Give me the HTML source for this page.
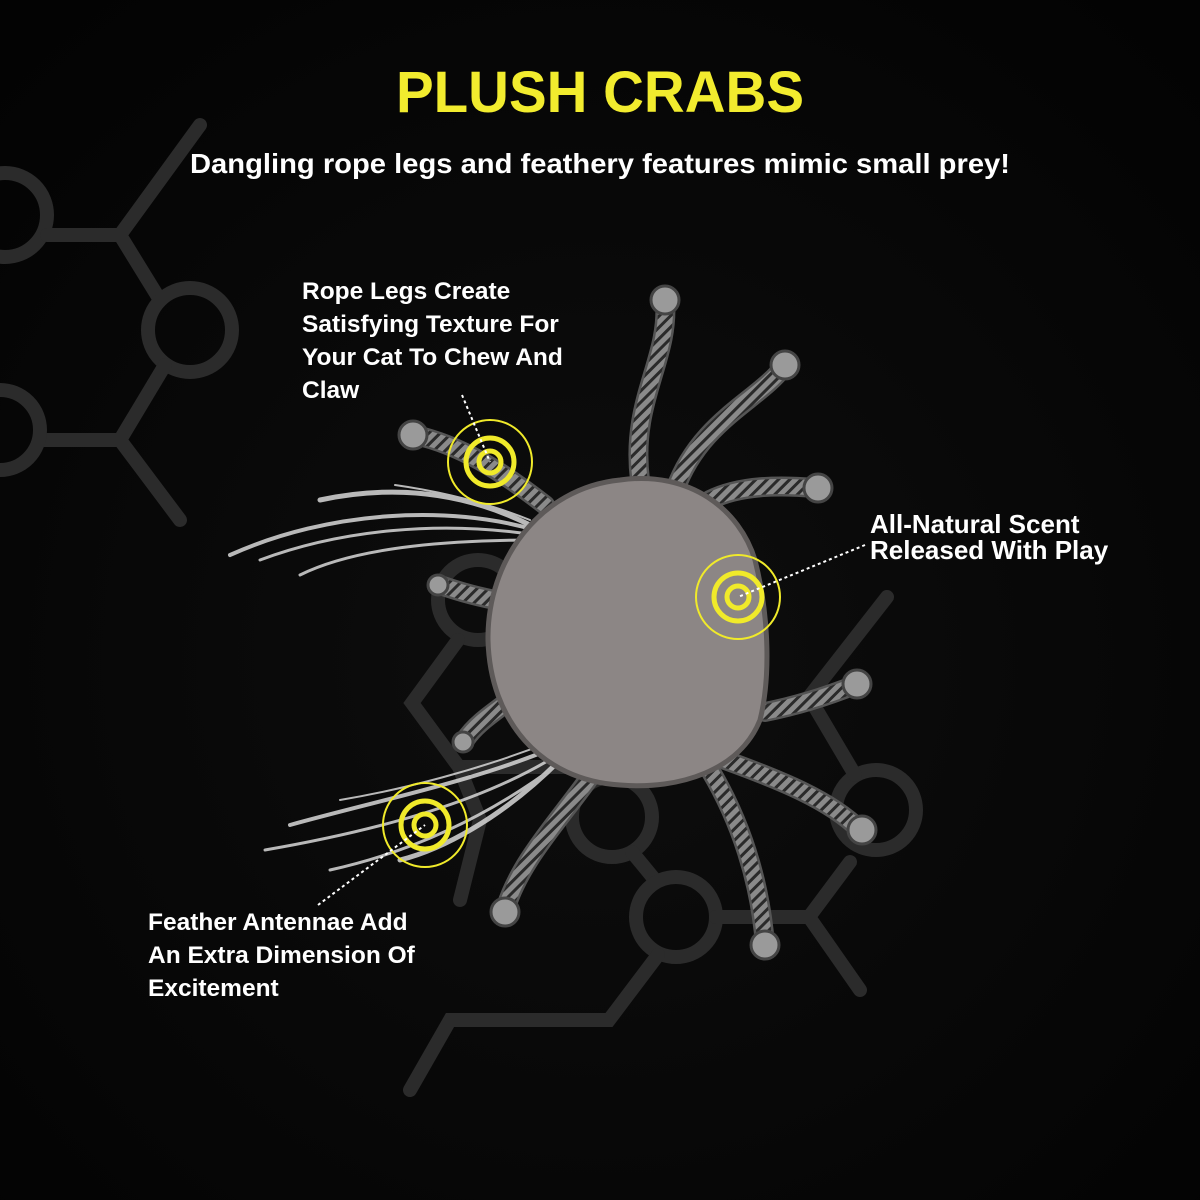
<!DOCTYPE html>
<html><head><meta charset="utf-8"><style>
html,body{margin:0;padding:0;background:#050505;}
svg{display:block}
</style></head><body>
<svg width="1200" height="1200" viewBox="0 0 1200 1200" xmlns="http://www.w3.org/2000/svg">
<defs>
<radialGradient id="bg" cx="50%" cy="55%" r="70%">
<stop offset="0" stop-color="#0e0e0e"/><stop offset="1" stop-color="#030303"/>
</radialGradient>
<pattern id="rope" width="8" height="8" patternUnits="userSpaceOnUse" patternTransform="rotate(45)">
<rect width="8" height="8" fill="#8a8a8a"/><rect width="3" height="8" fill="#2a2a2a"/>
</pattern>
</defs>
<rect width="1200" height="1200" fill="url(#bg)"/>
<!-- background molecule -->
<g fill="none" stroke="#2b2b2b" stroke-width="14" stroke-linecap="round">
<circle cx="5" cy="215" r="42"/>
<path d="M47 235 L120 235 L200 125 M120 235 L160 300"/>
<circle cx="190" cy="330" r="42"/>
<path d="M165 365 L120 440 L40 440 M120 440 L180 520"/>
<circle cx="0" cy="430" r="40"/>
<circle cx="478" cy="600" r="40"/>
<path d="M458 640 L412 703 L459 767 L575 767"/>
<circle cx="612" cy="817" r="40"/>
<path d="M632 852 L655 880"/>
<circle cx="676" cy="917" r="40"/>
<path d="M716 917 L809 917 L850 862 M809 917 L860 990"/>
<circle cx="876" cy="810" r="40"/>
<path d="M855 775 L809 697 L887 597"/>
<path d="M658 955 L609 1020 L450 1020 L410 1090"/>
<path d="M459 767 L480 820 L460 900"/>
</g>
<!-- legs -->
<g fill="none" stroke-linecap="round">
<g stroke="#555" stroke-width="20">
<path d="M640 480 C630 400 670 360 665 300"/>
<path d="M675 490 C700 420 760 400 785 365"/>
<path d="M710 500 C740 485 780 485 815 488"/>
<path d="M545 505 C500 470 460 445 415 435"/>
<path d="M495 600 C470 595 455 590 440 585"/>
<path d="M765 712 C800 705 830 695 855 685"/>
<path d="M510 700 C490 715 475 725 465 740"/>
<path d="M725 760 C780 780 830 800 860 830"/>
<path d="M710 770 C740 820 760 880 765 945"/>
<path d="M595 770 C560 820 520 860 505 910"/>
</g>
<g stroke="url(#rope)" stroke-width="15">
<path d="M640 480 C630 400 670 360 665 300"/>
<path d="M675 490 C700 420 760 400 785 365"/>
<path d="M710 500 C740 485 780 485 815 488"/>
<path d="M545 505 C500 470 460 445 415 435"/>
<path d="M495 600 C470 595 455 590 440 585"/>
<path d="M765 712 C800 705 830 695 855 685"/>
<path d="M510 700 C490 715 475 725 465 740"/>
<path d="M725 760 C780 780 830 800 860 830"/>
<path d="M710 770 C740 820 760 880 765 945"/>
<path d="M595 770 C560 820 520 860 505 910"/>
</g>
</g>
<g fill="#9a9a9a" stroke="#444" stroke-width="3">
<circle cx="665" cy="300" r="14"/><circle cx="785" cy="365" r="14"/><circle cx="818" cy="488" r="14"/>
<circle cx="413" cy="435" r="14"/><circle cx="438" cy="585" r="10"/><circle cx="857" cy="684" r="14"/>
<circle cx="463" cy="742" r="10"/><circle cx="862" cy="830" r="14"/><circle cx="765" cy="945" r="14"/><circle cx="505" cy="912" r="14"/>
</g>
<!-- feathers -->
<g fill="none" stroke="#d8d8d8" stroke-linecap="round" opacity="0.85">
<path d="M535 530 C450 505 330 510 230 555" stroke-width="4"/>
<path d="M535 535 C440 520 340 530 260 560" stroke-width="3"/>
<path d="M530 525 C460 490 390 485 320 500" stroke-width="5"/>
<path d="M540 540 C460 540 360 545 300 575" stroke-width="3"/>
<path d="M530 520 C480 500 430 490 395 485" stroke-width="2"/>
<path d="M560 745 C480 780 380 800 290 825" stroke-width="4"/>
<path d="M565 750 C490 800 380 830 265 850" stroke-width="3"/>
<path d="M570 755 C500 810 420 850 330 870" stroke-width="3"/>
<path d="M560 760 C500 820 440 850 400 860" stroke-width="5"/>
<path d="M555 740 C480 770 400 790 340 800" stroke-width="2"/>
</g>
<!-- body -->
<path d="M620 480 C690 470 740 510 755 560 C770 620 770 680 760 720 C740 770 680 790 620 785 C540 780 490 720 488 640 C487 560 540 488 620 480 Z" fill="#8c8685" stroke="#5e5a59" stroke-width="5"/>
<!-- callouts -->
<g fill="none" stroke="#f0ea2a">
<g transform="translate(490,462)"><circle r="11" stroke-width="5"/><circle r="24" stroke-width="5"/><circle r="42" stroke-width="2"/></g>
<g transform="translate(738,597)"><circle r="11" stroke-width="5"/><circle r="24" stroke-width="5"/><circle r="42" stroke-width="2"/></g>
<g transform="translate(425,825)"><circle r="11" stroke-width="5"/><circle r="24" stroke-width="5"/><circle r="42" stroke-width="2"/></g>
</g>
<g stroke="#fff" stroke-width="2" stroke-dasharray="3 3" fill="none">
<path d="M462 395 L490 462"/>
<path d="M865 545 L738 597"/>
<path d="M318 905 L425 825"/>
</g>
<g font-family="Liberation Sans, sans-serif" font-weight="bold" fill="#fff">
<text x="600" y="112" text-anchor="middle" font-size="58" fill="#f2ec2e" textLength="408" lengthAdjust="spacingAndGlyphs">PLUSH CRABS</text>
<text x="600" y="173" text-anchor="middle" font-size="28" textLength="820" lengthAdjust="spacingAndGlyphs">Dangling rope legs and feathery features mimic small prey!</text>
<g font-size="24.5">
<text x="302" y="299">Rope Legs Create</text>
<text x="302" y="332">Satisfying Texture For</text>
<text x="302" y="365">Your Cat To Chew And</text>
<text x="302" y="398">Claw</text>
<text x="870" y="533" font-size="26">All-Natural Scent</text>
<text x="870" y="559" font-size="26">Released With Play</text>
<text x="148" y="930">Feather Antennae Add</text>
<text x="148" y="963">An Extra Dimension Of</text>
<text x="148" y="996">Excitement</text>
</g>
</g>
</svg>
</body></html>
